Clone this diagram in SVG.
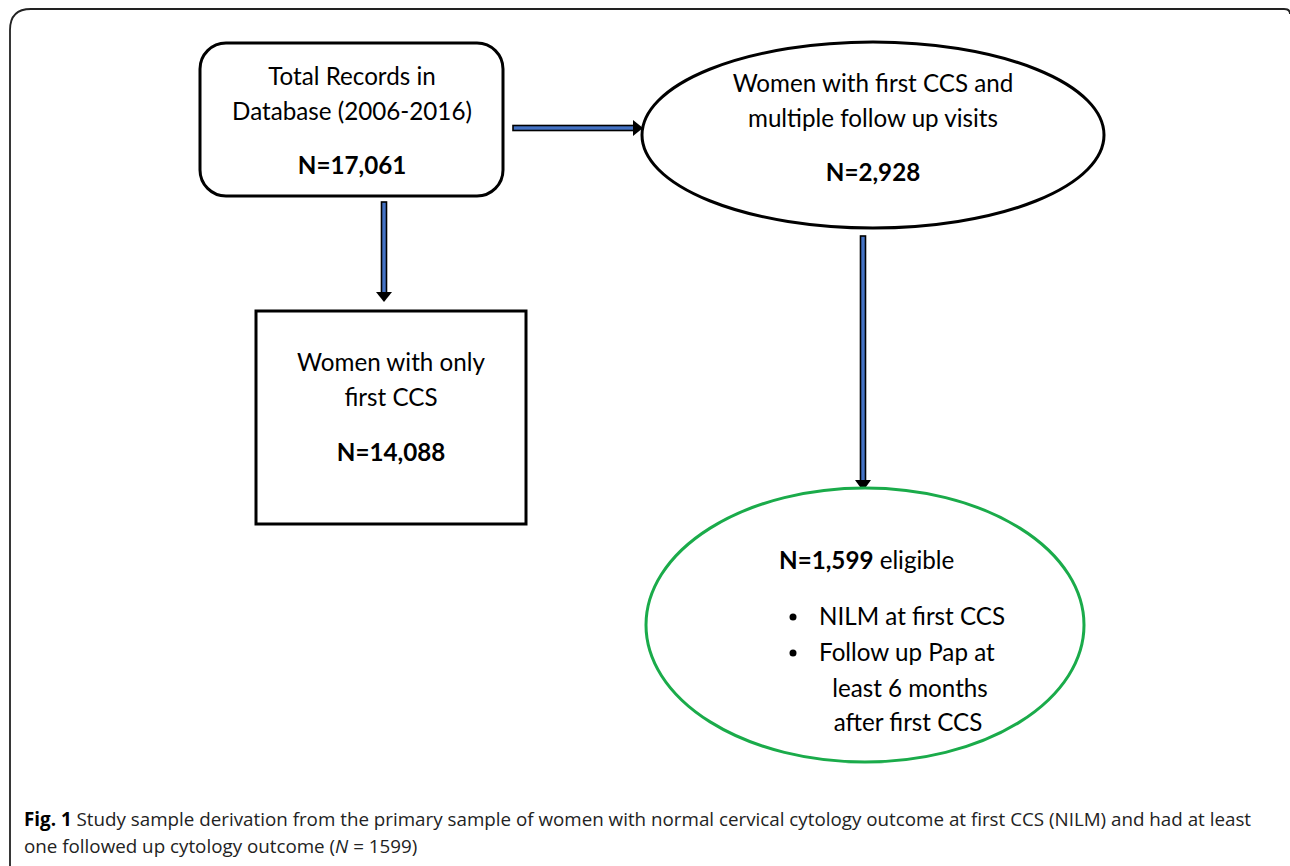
<svg xmlns="http://www.w3.org/2000/svg" width="1290" height="866" viewBox="0 0 1290 866">
<defs>
<style>
.t{font-family:Lato,"Liberation Sans",sans-serif;font-size:24.2px;fill:#000}
.b{font-weight:bold}
.cap{font-family:"Open Sans","Noto Sans",sans-serif;font-size:18.8px;fill:#222}
.shaft{fill:#4472c4;stroke:#000;stroke-width:1.6}
.head{fill:#000}
</style>
</defs>
<rect width="1290" height="866" fill="#fff"/>
<path d="M10,866 L10,30 Q10,9 31,9 L1284,9 Q1290,9 1290,14" fill="none" stroke="#222" stroke-width="1.8"/>
<g id="connectors">
<g id="arrow-down-left">
<rect class="shaft" x="381.5" y="202" width="5" height="91"/>
<path class="head" d="M376,292 L392,292 L384,302 Z"/>
</g>
<g id="arrow-right">
<rect class="shaft" x="513" y="125.5" width="121" height="5"/>
<path class="head" d="M633,120 L643,128 L633,136 Z"/>
</g>
<g id="arrow-down-right">
<rect class="shaft" x="860.5" y="236" width="5" height="245"/>
<path class="head" d="M855,480 L871,480 L863,491 Z"/>
</g>
</g>
<g id="node-total">
<rect x="200" y="43" width="303" height="153" rx="26" fill="#fff" stroke="#000" stroke-width="3"/>
<text class="t" x="352" y="85" text-anchor="middle">Total Records in</text>
<text class="t" x="352" y="120" text-anchor="middle">Database (2006-2016)</text>
<text class="t b" x="352" y="174" text-anchor="middle">N=17,061</text>
</g>
<g id="node-only-first">
<rect x="256" y="311" width="270" height="213" fill="#fff" stroke="#000" stroke-width="3"/>
<text class="t" x="391" y="371" text-anchor="middle">Women with only</text>
<text class="t" x="391" y="406" text-anchor="middle">first CCS</text>
<text class="t b" x="391" y="461" text-anchor="middle">N=14,088</text>
</g>
<g id="node-multiple">
<ellipse cx="873" cy="135" rx="231" ry="93" fill="#fff" stroke="#000" stroke-width="3"/>
<text class="t" x="873" y="92" text-anchor="middle">Women with first CCS and</text>
<text class="t" x="873" y="127" text-anchor="middle">multiple follow up visits</text>
<text class="t b" x="873" y="181" text-anchor="middle">N=2,928</text>
</g>
<g id="node-eligible">
<ellipse cx="865" cy="625" rx="219" ry="137" fill="#fff" stroke="#1aab4a" stroke-width="3"/>
<text class="t" x="779" y="569"><tspan class="b">N=1,599</tspan> eligible</text>
<circle cx="793" cy="617" r="3.5" fill="#000"/>
<circle cx="793" cy="653" r="3.5" fill="#000"/>
<text class="t" x="819" y="625">NILM at first CCS</text>
<text class="t" x="819" y="661">Follow up Pap at</text>
<text class="t" x="910" y="697" text-anchor="middle">least 6 months</text>
<text class="t" x="908" y="731" text-anchor="middle">after first CCS</text>
</g>
<g id="caption">
<text class="cap" x="24" y="826"><tspan font-weight="bold" fill="#000">Fig. 1</tspan> Study sample derivation from the primary sample of women with normal cervical cytology outcome at first CCS (NILM) and had at least</text>
<text class="cap" x="24" y="853">one followed up cytology outcome (<tspan font-style="italic">N</tspan> = 1599)</text>
</g>
</svg>
